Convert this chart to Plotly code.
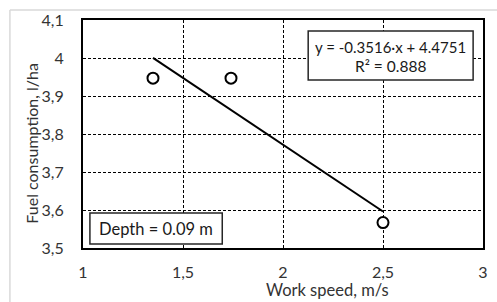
import plotly.graph_objects as go

# Data
speed = [1.35, 1.74, 2.5]
fuel = [3.947, 3.947, 3.567]
slope = -0.3516
intercept = 4.4751
r2 = 0.888
x_ticks = [1, 1.5, 2, 2.5, 3]
x_ticktext = ["1", "1,5", "2", "2,5", "3"]
y_ticks = [3.5, 3.6, 3.7, 3.8, 3.9, 4.0, 4.1]
y_ticktext = ["3,5", "3,6", "3,7", "3,8", "3,9", "4", "4,1"]
depth_label = "Depth = 0.09 m"

W, H = 497, 302
L, R, T, B = 83, 488, 20, 248


def px(x):
    return (x - L) / (R - L)


def py(y):
    return (B - y) / (B - T)


FONT = "Lato"
TXT = "#333333"
BOXTXT = "#1a1a1a"

trend_x = [min(speed), max(speed)]
trend_y = [slope * v + intercept for v in trend_x]

fig = go.Figure()
fig.add_trace(go.Scatter(x=trend_x, y=trend_y, mode="lines",
                         line=dict(color="black", width=2), showlegend=False))
fig.add_trace(go.Scatter(x=speed, y=fuel, mode="markers",
                         marker=dict(symbol="circle", size=11, color="white",
                                     line=dict(color="black", width=2)),
                         showlegend=False))

fig.update_layout(
    width=W, height=H,
    margin=dict(l=L, r=W - R, t=T, b=H - B),
    paper_bgcolor="white", plot_bgcolor="white",
    font=dict(family=FONT, size=16, color=TXT),
    xaxis=dict(range=[1, 3], tickvals=x_ticks, ticktext=x_ticktext,
               showgrid=True, gridcolor="black", gridwidth=1, griddash="3px,2px",
               showline=True, linecolor="black", linewidth=2, mirror=True,
               zeroline=False, ticks="", ticklabelstandoff=9,
               tickfont=dict(family=FONT, size=16, color=TXT)),
    yaxis=dict(range=[3.5, 4.1], tickvals=y_ticks, ticktext=y_ticktext,
               showgrid=True, gridcolor="black", gridwidth=1, griddash="3px,2px",
               showline=True, linecolor="black", linewidth=2, mirror=True,
               zeroline=False, ticks="", ticklabelstandoff=14,
               tickfont=dict(family=FONT, size=16, color=TXT)),
    shapes=[
        # outer chart border (light gray)
        dict(type="line", xref="paper", yref="paper", x0=px(9), x1=px(520),
             y0=py(10), y1=py(10), line=dict(color="#d9d9d9", width=1.5)),
        dict(type="line", xref="paper", yref="paper", x0=px(9), x1=px(9),
             y0=py(10), y1=py(320), line=dict(color="#d9d9d9", width=1.5)),
        # equation box
        dict(type="rect", xref="paper", yref="paper", x0=px(311), x1=px(478),
             y0=py(80), y1=py(31), fillcolor="white",
             line=dict(color="#262626", width=1.5), layer="above"),
        # depth box
        dict(type="rect", xref="paper", yref="paper", x0=px(90), x1=px(224),
             y0=py(244), y1=py(213), fillcolor="white",
             line=dict(color="#262626", width=1.5), layer="above"),
    ],
    annotations=[
        dict(text=f"y = {slope:.4f}·x + {intercept:.4f}", xref="paper", yref="paper",
             x=px(394.5), y=py(47), xanchor="center", yanchor="middle",
             showarrow=False, font=dict(family=FONT, size=15, color=BOXTXT)),
        dict(text=f"R² = {r2:.3f}", xref="paper", yref="paper",
             x=px(394.5), y=py(66), xanchor="center", yanchor="middle",
             showarrow=False, font=dict(family=FONT, size=15.5, color=BOXTXT)),
        dict(text=depth_label, xref="paper", yref="paper",
             x=px(157), y=py(229), xanchor="center", yanchor="middle",
             showarrow=False, font=dict(family=FONT, size=16.5, color=BOXTXT)),
        dict(text="Fuel consumption, l/ha", xref="paper", yref="paper",
             x=px(30), y=py(143), xanchor="center", yanchor="middle",
             textangle=-90, showarrow=False,
             font=dict(family=FONT, size=16, color=TXT)),
        dict(text="Work speed, m/s", xref="paper", yref="paper",
             x=px(331), y=py(290), xanchor="center", yanchor="middle",
             showarrow=False, font=dict(family=FONT, size=16.5, color=TXT)),
    ],
)

fig.write_html("out.html", config={"displayModeBar": False},
               post_script="document.body.style.margin='0';"
                           "document.body.style.overflow='hidden';")
